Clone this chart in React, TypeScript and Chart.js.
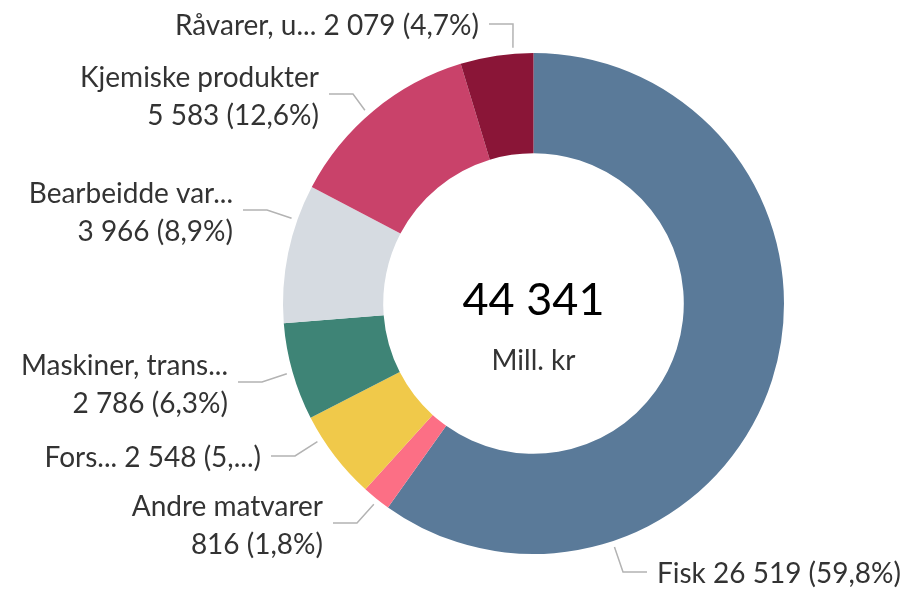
import React, { useEffect, useRef } from "react";
import { Chart, registerables } from "chart.js";

Chart.register(...registerables);

const CATEGORIES = [
  "Fisk",
  "Andre matvarer",
  "Fors...",
  "Maskiner, trans...",
  "Bearbeidde var...",
  "Kjemiske produkter",
  "Råvarer, u...",
];
const VALUES = [26519, 816, 2548, 2786, 3966, 5583, 2079];
const PERCENT_LABELS = ["59,8%", "1,8%", "5,...", "6,3%", "8,9%", "12,6%", "4,7%"];
const TOTAL = 44341;
const UNIT = "Mill. kr";
const COLORS = ["#5a7a99", "#fc6f85", "#f0c94a", "#3e8476", "#d6dbe1", "#c9426a", "#8a1537"];

// label placement (leader end angle in degrees from top, elbow offset from centre, side, line mode)
const LABEL_LAYOUT = [
  { angle: 161.6, ex: 89.5, ey: 268.5, side: "right", two: false },
  { angle: 218.5, ex: -176.5, ey: 219.5, side: "left", two: true },
  { angle: 237.4, ex: -238.5, ey: 152.5, side: "left", two: false },
  { angle: 254.1, ex: -271.5, ey: 78.5, side: "left", two: true },
  { angle: 289.4, ex: -266.5, ey: -93.5, side: "left", two: true },
  { angle: 318.9, ex: -180.5, ey: -209.5, side: "left", two: true },
  { angle: 355.4, ex: -20.5, ey: -279.5, side: "left", two: false },
];

const FONT = "Lato, 'Open Sans', sans-serif";
const LABEL_SIZE = 28;

function fmt(n: number): string {
  return String(n).replace(/\B(?=(\d{3})+(?!\d))/g, " ");
}

const labelPlugin = {
  id: "donutLabels",
  afterDraw(chart: any) {
    const meta = chart.getDatasetMeta(0);
    const ctx = chart.ctx as CanvasRenderingContext2D;
    if (!meta.data.length) return;
    const first = meta.data[0].getProps(["x", "y", "outerRadius"], true);
    const cx = first.x;
    const cy = first.y;
    const r = first.outerRadius;
    ctx.save();
    meta.data.forEach((arc: any, i: number) => {
      const L = LABEL_LAYOUT[i];
      if (!L) return;
      const a = (L.angle * Math.PI) / 180;
      const px = cx + (r + 6) * Math.sin(a);
      const py = cy - (r + 6) * Math.cos(a);
      const exx = cx + L.ex;
      const eyy = cy + L.ey;
      const dir = L.side === "left" ? -1 : 1;
      ctx.strokeStyle = "#b3b3b3";
      ctx.lineWidth = 1.5;
      ctx.beginPath();
      ctx.moveTo(px, py);
      ctx.lineTo(exx, eyy);
      ctx.lineTo(exx + dir * 24, eyy);
      ctx.stroke();

      ctx.fillStyle = "#333333";
      ctx.font = `${LABEL_SIZE}px ${FONT}`;
      ctx.textAlign = L.side === "left" ? "right" : "left";
      ctx.textBaseline = "alphabetic";
      const tx = exx + dir * 34;
      const valueText = `${fmt(VALUES[i])} (${PERCENT_LABELS[i]})`;
      if (L.two) {
        ctx.fillText(CATEGORIES[i], tx, eyy - 7);
        ctx.fillText(valueText, tx, eyy + 31);
      } else {
        ctx.fillText(`${CATEGORIES[i]} ${valueText}`, tx, eyy + 11);
      }
    });
    ctx.textAlign = "center";
    ctx.fillStyle = "#000000";
    ctx.font = `45px ${FONT}`;
    ctx.fillText(fmt(TOTAL), cx, cy + 11.5);
    ctx.fillStyle = "#333333";
    ctx.font = `28px ${FONT}`;
    ctx.fillText(UNIT, cx, cy + 66.5);
    ctx.restore();
  },
};

export default function App() {
  const ref = useRef<HTMLCanvasElement | null>(null);
  useEffect(() => {
    if (!ref.current) return;
    const chart = new Chart(ref.current, {
      type: "doughnut",
      data: {
        labels: CATEGORIES,
        datasets: [
          {
            data: VALUES,
            backgroundColor: COLORS,
            borderWidth: 0,
          },
        ],
      },
      options: {
        responsive: false,
        animation: false,
        devicePixelRatio: 1,
        cutout: "60%",
        layout: { padding: { left: 283, right: 116, top: 53, bottom: 35 } },
        plugins: {
          legend: { display: false },
          tooltip: { enabled: false },
        },
      },
      plugins: [labelPlugin],
    });
    return () => chart.destroy();
  }, []);
  return (
    <div style={{ position: "fixed", left: 0, top: 0, width: 900, height: 589, background: "#fff" }}>
      <canvas ref={ref} width={900} height={589} style={{ width: 900, height: 589 }} />
    </div>
  );
}
